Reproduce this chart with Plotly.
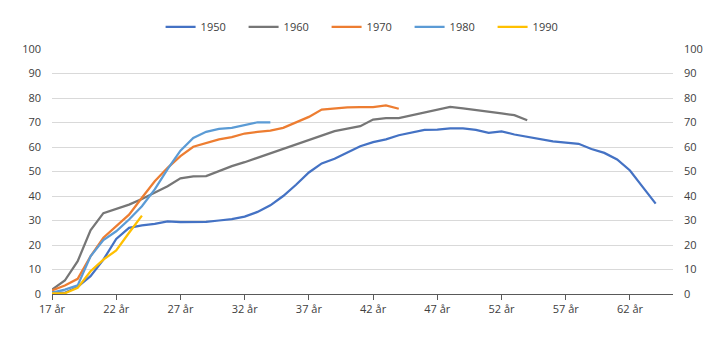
import plotly.graph_objects as go

# Ages (one point per year of age)
ages_1950 = list(range(17, 65))
ages_1960 = list(range(17, 55))
ages_1970 = list(range(17, 45))
ages_1980 = list(range(17, 35))
ages_1990 = list(range(17, 25))

# Share (percent) for each cohort by age
vals_1950 = [0.8, 0.5, 2.9, 7.3, 14.0, 22.5, 27.0, 28.0, 28.6, 29.6, 29.3, 29.4, 29.4,
             30.0, 30.6, 31.6, 33.5, 36.2, 40.0, 44.6, 49.6, 53.3, 55.2, 57.8, 60.3,
             62.0, 63.1, 64.8, 66.0, 67.0, 67.1, 67.6, 67.6, 67.0, 65.8, 66.4, 65.1,
             64.1, 63.0, 62.3, 61.8, 61.3, 59.2, 57.6, 54.9, 50.4, 43.6, 36.9]
vals_1960 = [1.8, 5.5, 13.4, 26.0, 33.0, 34.8, 36.5, 38.8, 41.3, 44.0, 47.2, 48.0, 48.1,
             50.1, 52.2, 53.8, 55.6, 57.3, 59.3, 61.0, 62.7, 64.7, 66.5, 67.5, 68.5,
             71.2, 71.8, 71.8, 73.0, 74.2, 75.3, 76.4, 75.8, 75.2, 74.6, 73.7, 73.0, 70.9]
vals_1970 = [1.5, 3.5, 6.2, 15.4, 23.0, 27.7, 32.4, 39.3, 46.0, 51.5, 56.3, 60.1, 61.7,
             63.1, 64.0, 65.5, 66.2, 66.7, 67.8, 70.1, 72.3, 75.3, 75.8, 76.2, 76.3,
             76.3, 77.0, 75.6]
vals_1980 = [0.5, 1.8, 3.5, 15.4, 22.0, 25.6, 30.4, 35.8, 42.7, 51.0, 58.5, 63.7, 66.2,
             67.4, 67.8, 68.9, 70.1, 70.1]
vals_1990 = [0.3, 0.3, 2.5, 9.3, 14.0, 17.8, 25.0, 32.0]

series_names = ["1950", "1960", "1970", "1980", "1990"]
series_ages = [ages_1950, ages_1960, ages_1970, ages_1980, ages_1990]
series_vals = [vals_1950, vals_1960, vals_1970, vals_1980, vals_1990]
colors = ["#4472C4", "#767676", "#ED7D31", "#5B9BD5", "#FFC000"]

x_ticks = list(range(17, 65, 5))
x_tick_labels = [f"{a} år" for a in x_ticks]
y_ticks = list(range(0, 101, 10))

fig = go.Figure()
for name, xs, ys, col in zip(series_names, series_ages, series_vals, colors):
    fig.add_trace(go.Scatter(
        x=xs, y=ys, name=name, mode="lines",
        line=dict(color=col, width=2.25),
    ))

# Invisible trace carrying the mirrored right-hand axis
fig.add_trace(go.Scatter(x=[17], y=[0], yaxis="y2", showlegend=False,
                         hoverinfo="skip", mode="markers",
                         marker=dict(opacity=0)))

font = dict(family="Open Sans, DejaVu Sans, sans-serif", size=11, color="#404040")

fig.update_layout(
    width=720, height=341,
    margin=dict(l=51.5, r=47, t=49, b=46.5),
    paper_bgcolor="white", plot_bgcolor="white",
    font=font,
    showlegend=True,
    legend=dict(orientation="h", x=0.509, xanchor="center", y=1.09, yanchor="middle",
                yref="paper", entrywidth=38, font=font, itemwidth=30),
    xaxis=dict(range=[17, 65.35], tickvals=x_ticks, ticktext=x_tick_labels,
               showgrid=False, zeroline=False, showline=True, linecolor="#595959",
               linewidth=1, ticks="outside", ticklen=5, tickcolor="#595959",
               tickfont=font),
    yaxis=dict(range=[0, 100], tickvals=y_ticks, showgrid=True, gridcolor="#D9D9D9",
               gridwidth=1, zeroline=False, showline=False, ticks="",
               ticklabelstandoff=10, tickfont=font),
    yaxis2=dict(range=[0, 100], tickvals=y_ticks, overlaying="y", side="right",
                showgrid=False, zeroline=False, showline=False, ticks="",
                ticklabelstandoff=10, tickfont=font),
)

fig.write_html("out.html")
